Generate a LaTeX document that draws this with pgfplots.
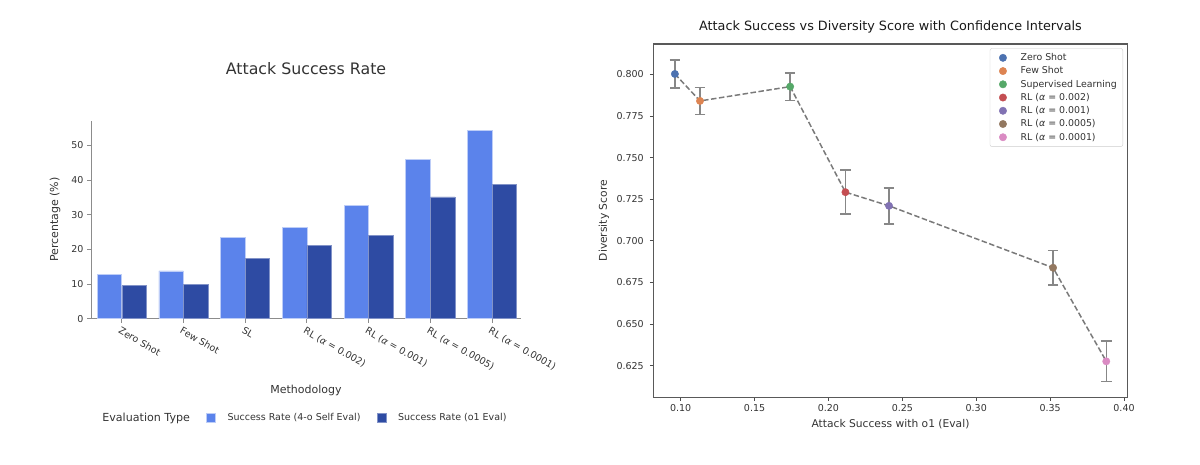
\documentclass[border=0pt]{standalone}
\usepackage{fontspec}
\setmainfont{DejaVu Sans}
\usepackage{pgfplots}
\usepackage{pgfplotstable}
\pgfplotsset{compat=1.18}

\definecolor{selfeval}{HTML}{5B83EB}
\definecolor{oneeval}{HTML}{2E4BA3}
\definecolor{txt}{HTML}{333333}
\definecolor{spine}{HTML}{8C8C8C}
\definecolor{dblue}{HTML}{4C72B0}
\definecolor{dorange}{HTML}{DD8452}
\definecolor{dgreen}{HTML}{55A868}
\definecolor{dred}{HTML}{C44E52}
\definecolor{dpurple}{HTML}{8172B3}
\definecolor{dbrown}{HTML}{937860}
\definecolor{dpink}{HTML}{DA8BC3}

% success rates (%) per methodology
\pgfplotstableread{
idx self o1
0 12.8 9.5
1 13.8 10.0
2 23.4 17.3
3 26.4 21.1
4 32.6 24.0
5 46.0 35.1
6 54.4 38.7
}\ratetable

% attack success vs diversity, with half-width of the confidence interval
\pgfplotstableread{
x y err
0.0961 0.8002 0.0084
0.1131 0.7840 0.0080
0.1741 0.7926 0.0083
0.2115 0.7292 0.0132
0.2410 0.7210 0.0108
0.3520 0.6838 0.0103
0.3880 0.6276 0.0121
}\divtable

\newcommand{\al}{\textit{α}}

\begin{document}
\begin{tikzpicture}[x=1pt,y=1pt]
\useasboundingbox (0,0) rectangle (1200,465);

% ---------------- left: grouped bars ----------------
\begin{axis}[
  at={(91pt,146.3pt)}, anchor=south west,
  scale only axis, width=430pt, height=198pt,
  xmin=-0.5, xmax=6.47, ymin=0, ymax=57.1,
  axis lines*=left,
  axis line style={spine, line width=1pt},
  tick align=outside, major tick length=4pt,
  tick style={spine, line width=0.9pt},
  xtick={0,...,6},
  xticklabels={Zero Shot, Few Shot, SL, RL (\al{} = 0.002), RL (\al{} = 0.001), RL (\al{} = 0.0005), RL (\al{} = 0.0001)},
  xticklabel style={rotate=-30, anchor=north west, font=\fontsize{9.5}{11}\selectfont, text=txt, xshift=-2pt},
  ytick={0,10,...,50},
  yticklabel style={font=\fontsize{9.5}{11}\selectfont, text=txt, /pgf/number format/assume math mode=true},
  title={Attack Success Rate},
  title style={at={(axis description cs:0.5,1.231)}, anchor=center, font=\fontsize{15.8}{18}\selectfont, text=txt},
  xlabel={Methodology},
  xlabel style={at={(axis description cs:0.5,-0.36)}, anchor=center, font=\fontsize{11}{13}\selectfont, text=txt},
  ylabel={Percentage (\%)},
  ylabel style={at={(axis description cs:-0.0837,0.501)}, anchor=center, rotate=0, font=\fontsize{11}{13}\selectfont, text=txt},
  ybar, bar width=24.5pt,
  legend columns=3,
  legend style={at={(axis description cs:0.4853,-0.502)}, anchor=center, draw=none, fill=none,
    font=\fontsize{9.5}{11}\selectfont, text=txt,
    /tikz/every odd column/.append style={column sep=9.5pt},
    /tikz/every even column/.append style={column sep=14.5pt}},
  legend image code/.code={\fill[#1] (0pt,-4.5pt) rectangle (9pt,4.5pt);},
]
\addlegendimage{empty legend}
\addlegendentry{\fontsize{11.1}{13}\selectfont Evaluation Type\hspace{6.8pt}}
\addplot[fill=selfeval, draw=white!60!selfeval, line width=0.6pt, bar shift=-12.3pt]
  table[x=idx, y=self]{\ratetable};
\addlegendentry{Success Rate (4-o Self Eval)}
\addplot[fill=oneeval, draw=white!40!oneeval, line width=0.6pt, bar shift=12.3pt]
  table[x=idx, y=o1]{\ratetable};
\addlegendentry{Success Rate (o1 Eval)}
\end{axis}

% ---------------- right: diversity vs success ----------------
\begin{axis}[
  at={(653.3pt,67.7pt)}, anchor=south west,
  scale only axis, width=474.4pt, height=353.3pt,
  xmin=0.0815, xmax=0.4025, ymin=0.606, ymax=0.8182,
  axis line style={black!65, line width=1.1pt},
  tick align=outside, major tick length=3.5pt,
  tick style={black!70, line width=0.8pt},
  xtick pos=bottom, ytick pos=left,
  xtick={0.10,0.15,0.20,0.25,0.30,0.35,0.40},
  ytick={0.625,0.650,0.675,0.700,0.725,0.750,0.775,0.800},
  scaled ticks=false,
  xticklabel style={/pgf/number format/.cd, fixed, fixed zerofill, precision=2, assume math mode=true},
  yticklabel style={xshift=-2.5pt, /pgf/number format/.cd, fixed, fixed zerofill, precision=3, assume math mode=true},
  ticklabel style={font=\fontsize{9.5}{11}\selectfont, text=txt},
  title={Attack Success vs Diversity Score with Confidence Intervals},
  title style={at={(axis description cs:0.5,1.031)}, anchor=center, font=\fontsize{12.8}{15}\selectfont, text=black!90},
  xlabel={Attack Success with o1 (Eval)},
  xlabel style={at={(axis description cs:0.5,-0.0756)}, anchor=center, font=\fontsize{10.7}{12}\selectfont, text=txt},
  ylabel={Diversity Score},
  ylabel style={at={(axis description cs:-0.104,0.5)}, anchor=center, font=\fontsize{10.7}{12}\selectfont, text=txt},
  legend cell align=left,
  legend style={at={(axis description cs:0.9901,0.9878)}, anchor=north east,
    draw=black!20, rounded corners=2pt, fill=white,
    font=\fontsize{9.4}{11}\selectfont, text=txt, row sep=0.6pt,
    inner xsep=4pt, inner ysep=3pt},
  legend image code/.code={%
    \path[draw=none, fill=none] (0pt,-3pt) rectangle (24.7pt,3pt);
    \draw[#1] plot coordinates {(9pt,0pt)};},
  error bars/y dir=both, error bars/y explicit,
  error bars/error bar style={black!47, line width=1.5pt},
  error bars/error mark options={rotate=90, mark size=5.3pt, line width=1.5pt, black!47},
]
\addplot[black!52, line width=1.5pt, dash pattern=on 5.5pt off 2.5pt, forget plot, error bars/y dir=none]
  table[x=x, y=y]{\divtable};
\addplot[only marks, mark=*, mark size=3.7pt, color=dblue, fill=dblue]
  coordinates {(0.0961,0.8002) +- (0,0.0084)};
\addlegendentry{Zero Shot}
\addplot[only marks, mark=*, mark size=3.7pt, color=dorange, fill=dorange]
  coordinates {(0.1131,0.7840) +- (0,0.0080)};
\addlegendentry{Few Shot}
\addplot[only marks, mark=*, mark size=3.7pt, color=dgreen, fill=dgreen]
  coordinates {(0.1741,0.7926) +- (0,0.0083)};
\addlegendentry{Supervised Learning}
\addplot[only marks, mark=*, mark size=3.7pt, color=dred, fill=dred]
  coordinates {(0.2115,0.7292) +- (0,0.0132)};
\addlegendentry{RL (\al{} = 0.002)}
\addplot[only marks, mark=*, mark size=3.7pt, color=dpurple, fill=dpurple]
  coordinates {(0.2410,0.7210) +- (0,0.0108)};
\addlegendentry{RL (\al{} = 0.001)}
\addplot[only marks, mark=*, mark size=3.7pt, color=dbrown, fill=dbrown]
  coordinates {(0.3520,0.6838) +- (0,0.0103)};
\addlegendentry{RL (\al{} = 0.0005)}
\addplot[only marks, mark=*, mark size=3.7pt, color=dpink, fill=dpink]
  coordinates {(0.3880,0.6276) +- (0,0.0121)};
\addlegendentry{RL (\al{} = 0.0001)}
\end{axis}
\end{tikzpicture}
\end{document}
